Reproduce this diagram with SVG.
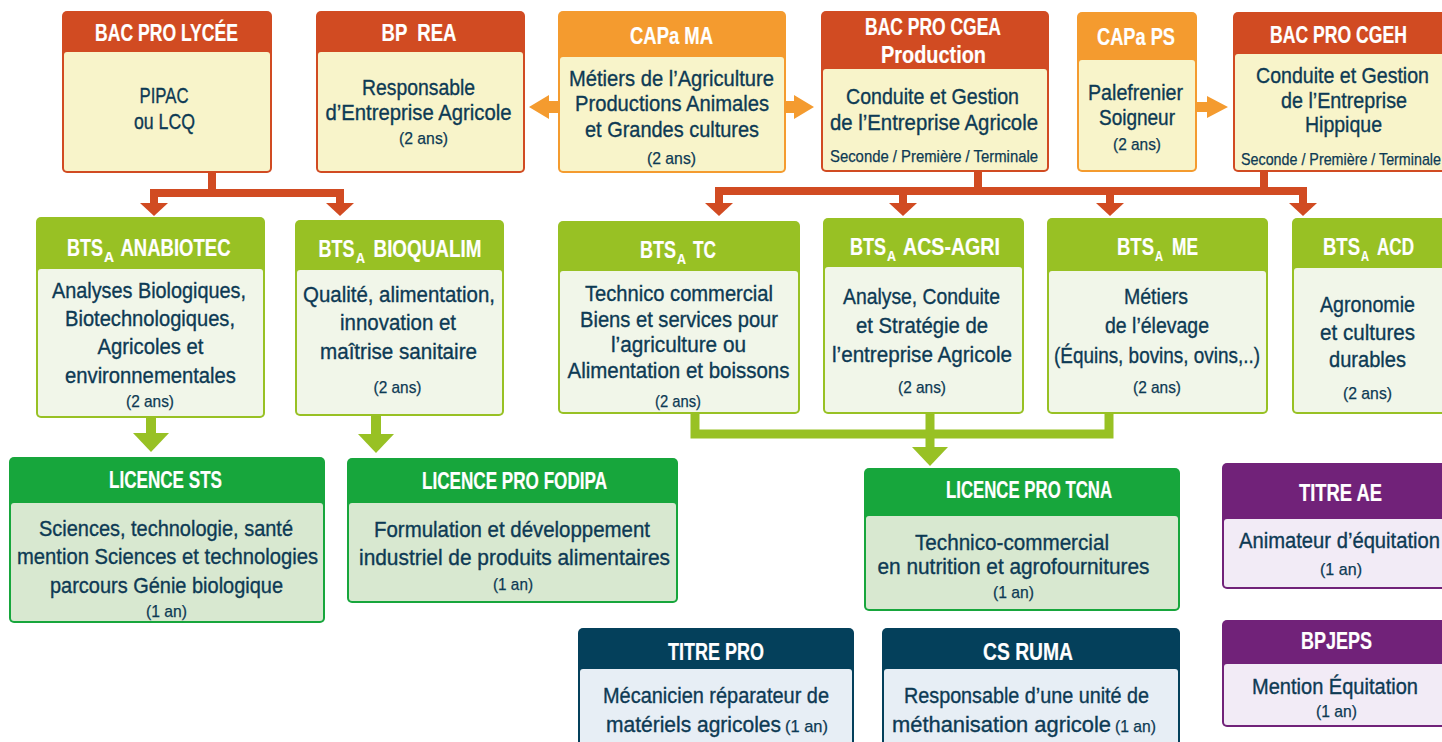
<svg xmlns="http://www.w3.org/2000/svg" xmlns:xlink="http://www.w3.org/1999/xlink" width="1442" height="742" viewBox="0 0 1442 742">
<style>
text{font-family:'Liberation Sans',Arial,sans-serif;fill:#0d3a54;font-size:22px;stroke:#0d3a54;stroke-width:0.35px}
.h{fill:#fff;stroke:#fff;stroke-width:0.2px;font-weight:bold;font-size:23px}
.sub{font-size:15px}
.s{font-size:17px;stroke-width:0.25px}
.red{fill:#d14b22}.org{fill:#f49b2f}.cream{fill:#f8f4ca}
.lime{fill:#98c124}.limeb{fill:#f1f6e9}
.grn{fill:#17a63c}.grnb{fill:#d8e8d0}
.pur{fill:#712279}.purb{fill:#f2ebf6}
.navy{fill:#04405b}.navyb{fill:#e7eef5}
.lr{fill:none;stroke:#d14b22;stroke-width:8}
.lg{fill:none;stroke:#98c124;stroke-width:9}
</style>
<defs>
<polygon id="rh" points="-14,0 14,0 0,13" fill="#d14b22"/>
<polygon id="gh" points="-18,0 18,0 0,19" fill="#98c124"/>
</defs>

<g id="connectors">
<path class="lr" d="M212 172 V193 M154 204 V193 H340 V204"/>
<use xlink:href="#rh" x="154" y="203"/>
<use xlink:href="#rh" x="340" y="203"/>
<path class="lr" d="M978 171 V191 M1264 171 V191 M719 204 V191 H1303 V204 M903 191 V204 M1110 191 V204"/>
<use xlink:href="#rh" x="719" y="203"/>
<use xlink:href="#rh" x="903" y="203"/>
<use xlink:href="#rh" x="1110" y="203"/>
<use xlink:href="#rh" x="1303" y="203"/>
<polygon class="org" points="559,101 549,101 549,95 529,107 549,119 549,113 559,113"/>
<polygon class="org" points="785,101 794,101 794,95 814,107 794,119 794,113 785,113"/>
<polygon class="org" points="1196,102 1207,102 1207,96 1228,107 1207,118 1207,112 1196,112"/>
<rect class="lime" x="146" y="417" width="10" height="17"/>
<use xlink:href="#gh" x="151" y="433"/>
<rect class="lime" x="371" y="415" width="10" height="19"/>
<use xlink:href="#gh" x="376" y="434"/>
<path class="lg" d="M695 413 V434 H1109 V413 M930 413 V448"/>
<use xlink:href="#gh" x="930" y="447"/>
</g>

<g id="lycee">
<rect class="red" x="62" y="11" width="210" height="162" rx="5"/>
<rect class="cream" x="64" y="52" width="206" height="119" rx="3"/>
<text class="h" x="95" y="41" textLength="143" lengthAdjust="spacingAndGlyphs">BAC PRO LYCÉE</text>
<text x="139.5" y="103" textLength="49" lengthAdjust="spacingAndGlyphs">PIPAC</text>
<text x="134" y="129" textLength="61" lengthAdjust="spacingAndGlyphs">ou LCQ</text>
</g>

<g id="bprea">
<rect class="red" x="316" y="11" width="209" height="162" rx="5"/>
<rect class="cream" x="318" y="52" width="205" height="119" rx="3"/>
<text class="h" x="381.5" y="41" xml:space="preserve" textLength="75" lengthAdjust="spacingAndGlyphs">BP  REA</text>
<text x="362" y="95" textLength="113" lengthAdjust="spacingAndGlyphs">Responsable</text>
<text x="325.5" y="120" textLength="186" lengthAdjust="spacingAndGlyphs">d’Entreprise Agricole</text>
<text class="s" x="399" y="144" textLength="49" lengthAdjust="spacingAndGlyphs">(2 ans)</text>
</g>

<g id="capama">
<rect class="org" x="558" y="11" width="228" height="162" rx="5"/>
<rect class="cream" x="560" y="57" width="224" height="114" rx="3"/>
<text class="h" x="630" y="44" textLength="83" lengthAdjust="spacingAndGlyphs">CAPa MA</text>
<text x="569" y="86" textLength="205" lengthAdjust="spacingAndGlyphs">Métiers de l’Agriculture</text>
<text x="575" y="111" textLength="194" lengthAdjust="spacingAndGlyphs">Productions Animales</text>
<text x="585" y="137" textLength="174" lengthAdjust="spacingAndGlyphs">et Grandes cultures</text>
<text class="s" x="647" y="164" textLength="49" lengthAdjust="spacingAndGlyphs">(2 ans)</text>
</g>

<g id="cgea">
<rect class="red" x="821" y="11" width="228" height="161" rx="5"/>
<rect class="cream" x="823" y="69" width="224" height="101" rx="3"/>
<text class="h" x="865" y="35" textLength="136" lengthAdjust="spacingAndGlyphs">BAC PRO CGEA</text>
<text class="h" x="881" y="63" textLength="105" lengthAdjust="spacingAndGlyphs">Production</text>
<text x="846" y="104" textLength="173" lengthAdjust="spacingAndGlyphs">Conduite et Gestion</text>
<text x="830" y="130" textLength="208" lengthAdjust="spacingAndGlyphs">de l’Entreprise Agricole</text>
<text class="s" x="830" y="162" textLength="208" lengthAdjust="spacingAndGlyphs">Seconde / Première / Terminale</text>
</g>

<g id="capaps">
<rect class="org" x="1077" y="12" width="120" height="160" rx="5"/>
<rect class="cream" x="1079" y="60" width="116" height="110" rx="3"/>
<text class="h" x="1097" y="45" textLength="78" lengthAdjust="spacingAndGlyphs">CAPa PS</text>
<text x="1088" y="100" textLength="95" lengthAdjust="spacingAndGlyphs">Palefrenier</text>
<text x="1099" y="125" textLength="76" lengthAdjust="spacingAndGlyphs">Soigneur</text>
<text class="s" x="1113" y="150" textLength="48" lengthAdjust="spacingAndGlyphs">(2 ans)</text>
</g>

<g id="cgeh">
<rect class="red" x="1233" y="12" width="220" height="160" rx="5"/>
<rect class="cream" x="1235" y="54" width="216" height="116" rx="3"/>
<text class="h" x="1270" y="43" textLength="137" lengthAdjust="spacingAndGlyphs">BAC PRO CGEH</text>
<text x="1256" y="83" textLength="173" lengthAdjust="spacingAndGlyphs">Conduite et Gestion</text>
<text x="1281" y="108" textLength="126" lengthAdjust="spacingAndGlyphs">de l’Entreprise</text>
<text x="1305" y="132" textLength="77" lengthAdjust="spacingAndGlyphs">Hippique</text>
<text class="s" x="1241" y="165" textLength="200" lengthAdjust="spacingAndGlyphs">Seconde / Première / Terminale</text>
</g>

<g id="anabiotec">
<rect class="lime" x="36" y="217" width="229" height="201" rx="5"/>
<rect class="limeb" x="38" y="269" width="225" height="147" rx="3"/>
<text class="h" y="256"><tspan x="67" textLength="36" lengthAdjust="spacingAndGlyphs">BTS</tspan><tspan class="sub" x="104" dy="6" textLength="10" lengthAdjust="spacingAndGlyphs">A</tspan><tspan x="120.5" dy="-6" textLength="110" lengthAdjust="spacingAndGlyphs">ANABIOTEC</tspan></text>
<text x="52" y="298" textLength="194" lengthAdjust="spacingAndGlyphs">Analyses Biologiques,</text>
<text x="65" y="326" textLength="170" lengthAdjust="spacingAndGlyphs">Biotechnologiques,</text>
<text x="97.5" y="354" textLength="106" lengthAdjust="spacingAndGlyphs">Agricoles et</text>
<text x="65" y="383" textLength="171" lengthAdjust="spacingAndGlyphs">environnementales</text>
<text class="s" x="126" y="407" textLength="48" lengthAdjust="spacingAndGlyphs">(2 ans)</text>
</g>

<g id="bioqualim">
<rect class="lime" x="295" y="220" width="209" height="196" rx="5"/>
<rect class="limeb" x="297" y="270" width="205" height="144" rx="3"/>
<text class="h" y="257"><tspan x="318.5" textLength="36" lengthAdjust="spacingAndGlyphs">BTS</tspan><tspan class="sub" x="356" dy="6" textLength="9" lengthAdjust="spacingAndGlyphs">A</tspan><tspan x="373.5" dy="-6" textLength="108" lengthAdjust="spacingAndGlyphs">BIOQUALIM</tspan></text>
<text x="303" y="302" textLength="192" lengthAdjust="spacingAndGlyphs">Qualité, alimentation,</text>
<text x="340" y="330" textLength="116" lengthAdjust="spacingAndGlyphs">innovation et</text>
<text x="320" y="359" textLength="157" lengthAdjust="spacingAndGlyphs">maîtrise sanitaire</text>
<text class="s" x="373.5" y="393" textLength="48" lengthAdjust="spacingAndGlyphs">(2 ans)</text>
</g>

<g id="tc">
<rect class="lime" x="558" y="221" width="242" height="193" rx="5"/>
<rect class="limeb" x="560" y="271" width="238" height="141" rx="3"/>
<text class="h" y="258"><tspan x="640" textLength="36" lengthAdjust="spacingAndGlyphs">BTS</tspan><tspan class="sub" x="677" dy="6" textLength="9" lengthAdjust="spacingAndGlyphs">A</tspan><tspan x="693" dy="-6" textLength="23" lengthAdjust="spacingAndGlyphs">TC</tspan></text>
<text x="585" y="301" textLength="188" lengthAdjust="spacingAndGlyphs">Technico commercial</text>
<text x="580" y="327" textLength="198" lengthAdjust="spacingAndGlyphs">Biens et services pour</text>
<text x="611" y="352" textLength="135" lengthAdjust="spacingAndGlyphs">l’agriculture ou</text>
<text x="567.5" y="378" textLength="222" lengthAdjust="spacingAndGlyphs">Alimentation et boissons</text>
<text class="s" x="655" y="407" textLength="46" lengthAdjust="spacingAndGlyphs">(2 ans)</text>
</g>

<g id="acsagri">
<rect class="lime" x="823" y="218" width="201" height="196" rx="5"/>
<rect class="limeb" x="825" y="267" width="197" height="145" rx="3"/>
<text class="h" y="255"><tspan x="850" textLength="36" lengthAdjust="spacingAndGlyphs">BTS</tspan><tspan class="sub" x="887" dy="6" textLength="9" lengthAdjust="spacingAndGlyphs">A</tspan><tspan x="903" dy="-6" textLength="97" lengthAdjust="spacingAndGlyphs">ACS-AGRI</tspan></text>
<text x="843" y="304" textLength="157" lengthAdjust="spacingAndGlyphs">Analyse, Conduite</text>
<text x="856" y="333" textLength="132" lengthAdjust="spacingAndGlyphs">et Stratégie de</text>
<text x="832" y="362" textLength="180" lengthAdjust="spacingAndGlyphs">l’entreprise Agricole</text>
<text class="s" x="898" y="393" textLength="48" lengthAdjust="spacingAndGlyphs">(2 ans)</text>
</g>

<g id="me">
<rect class="lime" x="1047" y="218" width="221" height="196" rx="5"/>
<rect class="limeb" x="1049" y="271" width="217" height="141" rx="3"/>
<text class="h" y="255"><tspan x="1117" textLength="37" lengthAdjust="spacingAndGlyphs">BTS</tspan><tspan class="sub" x="1155" dy="6" textLength="8" lengthAdjust="spacingAndGlyphs">A</tspan><tspan x="1172" dy="-6" textLength="26" lengthAdjust="spacingAndGlyphs">ME</tspan></text>
<text x="1124" y="304" textLength="64" lengthAdjust="spacingAndGlyphs">Métiers</text>
<text x="1105" y="333" textLength="104" lengthAdjust="spacingAndGlyphs">de l’élevage</text>
<text x="1054" y="363" textLength="206" lengthAdjust="spacingAndGlyphs">(Équins, bovins, ovins,..)</text>
<text class="s" x="1133" y="393" textLength="48" lengthAdjust="spacingAndGlyphs">(2 ans)</text>
</g>

<g id="acd">
<rect class="lime" x="1292" y="218" width="154" height="196" rx="5"/>
<rect class="limeb" x="1294" y="268" width="150" height="144" rx="3"/>
<text class="h" y="255"><tspan x="1323" textLength="37" lengthAdjust="spacingAndGlyphs">BTS</tspan><tspan class="sub" x="1361" dy="6" textLength="8" lengthAdjust="spacingAndGlyphs">A</tspan><tspan x="1377" dy="-6" textLength="37" lengthAdjust="spacingAndGlyphs">ACD</tspan></text>
<text x="1320" y="312" textLength="95" lengthAdjust="spacingAndGlyphs">Agronomie</text>
<text x="1320" y="340" textLength="95" lengthAdjust="spacingAndGlyphs">et cultures</text>
<text x="1329" y="367" textLength="77" lengthAdjust="spacingAndGlyphs">durables</text>
<text class="s" x="1343" y="399" textLength="49" lengthAdjust="spacingAndGlyphs">(2 ans)</text>
</g>

<g id="licsts">
<rect class="grn" x="9" y="457" width="316" height="166" rx="5"/>
<rect class="grnb" x="11" y="503" width="312" height="118" rx="3"/>
<text class="h" x="109" y="488" textLength="113" lengthAdjust="spacingAndGlyphs">LICENCE STS</text>
<text x="39" y="536" textLength="254" lengthAdjust="spacingAndGlyphs">Sciences, technologie, santé</text>
<text x="17" y="564" textLength="301" lengthAdjust="spacingAndGlyphs">mention Sciences et technologies</text>
<text x="50" y="593" textLength="233" lengthAdjust="spacingAndGlyphs">parcours Génie biologique</text>
<text class="s" x="146" y="617" textLength="41" lengthAdjust="spacingAndGlyphs">(1 an)</text>
</g>

<g id="licfodipa">
<rect class="grn" x="347" y="458" width="331" height="145" rx="5"/>
<rect class="grnb" x="349" y="503" width="327" height="98" rx="3"/>
<text class="h" x="422" y="489" textLength="185" lengthAdjust="spacingAndGlyphs">LICENCE PRO FODIPA</text>
<text x="374" y="537" textLength="276" lengthAdjust="spacingAndGlyphs">Formulation et développement</text>
<text x="359" y="565" textLength="311" lengthAdjust="spacingAndGlyphs">industriel de produits alimentaires</text>
<text class="s" x="493" y="590" textLength="40" lengthAdjust="spacingAndGlyphs">(1 an)</text>
</g>

<g id="lictcna">
<rect class="grn" x="864" y="468" width="316" height="143" rx="5"/>
<rect class="grnb" x="866" y="516" width="312" height="93" rx="3"/>
<text class="h" x="946" y="498" textLength="166" lengthAdjust="spacingAndGlyphs">LICENCE PRO TCNA</text>
<text x="915" y="550" textLength="194" lengthAdjust="spacingAndGlyphs">Technico-commercial</text>
<text x="877.5" y="574" textLength="272" lengthAdjust="spacingAndGlyphs">en nutrition et agrofournitures</text>
<text class="s" x="993" y="598" textLength="41" lengthAdjust="spacingAndGlyphs">(1 an)</text>
</g>

<g id="titreae">
<rect class="pur" x="1222" y="463" width="236" height="126" rx="5"/>
<rect class="purb" x="1224" y="519" width="232" height="68" rx="3"/>
<text class="h" x="1299" y="501" textLength="83" lengthAdjust="spacingAndGlyphs">TITRE AE</text>
<text x="1239" y="548" textLength="201" lengthAdjust="spacingAndGlyphs">Animateur d’équitation</text>
<text class="s" x="1320" y="575" textLength="42" lengthAdjust="spacingAndGlyphs">(1 an)</text>
</g>

<g id="bpjeps">
<rect class="pur" x="1222" y="620" width="236" height="107" rx="5"/>
<rect class="purb" x="1224" y="664" width="232" height="61" rx="3"/>
<text class="h" x="1301" y="649" textLength="71" lengthAdjust="spacingAndGlyphs">BPJEPS</text>
<text x="1252" y="694" textLength="166" lengthAdjust="spacingAndGlyphs">Mention Équitation</text>
<text class="s" x="1316" y="717" textLength="41" lengthAdjust="spacingAndGlyphs">(1 an)</text>
</g>

<g id="titrepro">
<rect class="navy" x="578" y="628" width="276" height="130" rx="5"/>
<rect class="navyb" x="580" y="669" width="272" height="120" rx="3"/>
<text class="h" x="668" y="660" textLength="96" lengthAdjust="spacingAndGlyphs">TITRE PRO</text>
<text x="603" y="703" textLength="226" lengthAdjust="spacingAndGlyphs">Mécanicien réparateur de</text>
<text x="606" y="732" textLength="175" lengthAdjust="spacingAndGlyphs">matériels agricoles</text>
<text class="s" x="785" y="732" textLength="43" lengthAdjust="spacingAndGlyphs">(1 an)</text>
</g>

<g id="csruma">
<rect class="navy" x="882" y="628" width="298" height="130" rx="5"/>
<rect class="navyb" x="884" y="669" width="294" height="120" rx="3"/>
<text class="h" x="983" y="660" textLength="90" lengthAdjust="spacingAndGlyphs">CS RUMA</text>
<text x="904" y="703" textLength="245" lengthAdjust="spacingAndGlyphs">Responsable d’une unité de</text>
<text x="892" y="732" textLength="219" lengthAdjust="spacingAndGlyphs">méthanisation agricole</text>
<text class="s" x="1115" y="732" textLength="41" lengthAdjust="spacingAndGlyphs">(1 an)</text>
</g>
</svg>
